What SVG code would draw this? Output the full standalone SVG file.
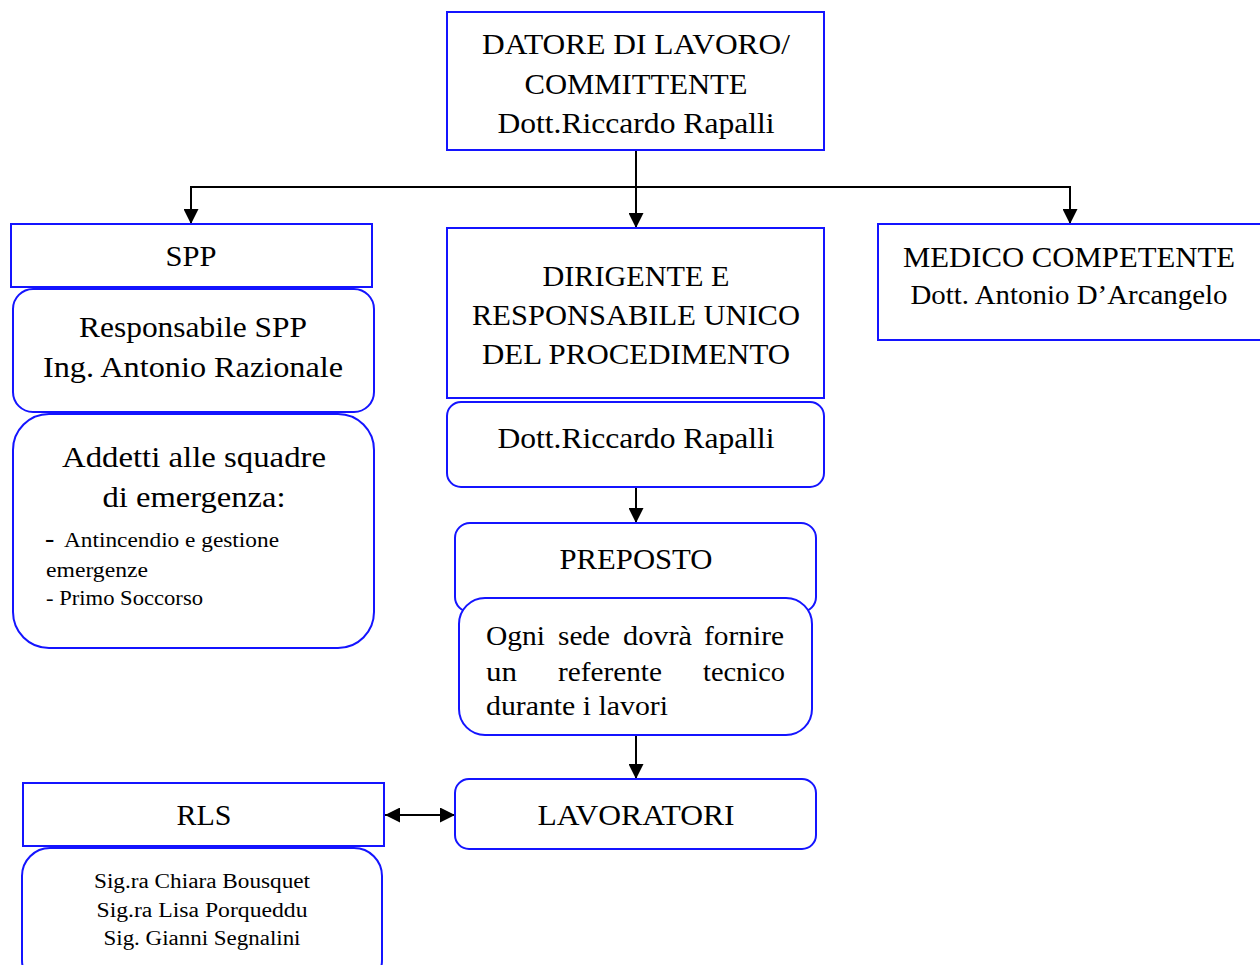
<svg xmlns="http://www.w3.org/2000/svg" width="1260" height="965" viewBox="0 0 1260 965">
<defs>
<marker id="ah" viewBox="0 0 10 10" refX="10" refY="5" markerWidth="15" markerHeight="15" markerUnits="userSpaceOnUse" orient="auto-start-reverse">
<path d="M0,0 L10,5 L0,10 z" fill="#000"/>
</marker>
<style>
.box{fill:#fff;stroke:#1414ff;stroke-width:2}
.t{font-family:"Liberation Serif","DejaVu Serif",serif;fill:#000;text-anchor:middle}
.l{font-family:"Liberation Serif","DejaVu Serif",serif;fill:#000}
.c{fill:none;stroke:#000;stroke-width:2}
</style>
</defs>
<rect width="1260" height="965" fill="#fff"/>

<g id="connectors">
<path class="c" d="M636,150 V228" marker-end="url(#ah)"/>
<path class="c" d="M191,224 V187 H1070 V224" marker-start="url(#ah)" marker-end="url(#ah)"/>
<path class="c" d="M636,487 V523" marker-end="url(#ah)"/>
<path class="c" d="M636,735 V779" marker-end="url(#ah)"/>
<path class="c" d="M385,815 H455" marker-start="url(#ah)" marker-end="url(#ah)"/>
</g>

<g id="datore">
<rect class="box" x="447" y="12" width="377" height="138"/>
<text class="t" font-size="30" x="636" y="54" textLength="308" lengthAdjust="spacingAndGlyphs">DATORE DI LAVORO/</text>
<text class="t" font-size="30" x="636" y="94" textLength="223" lengthAdjust="spacingAndGlyphs">COMMITTENTE</text>
<text class="t" font-size="30" x="636" y="133" textLength="277" lengthAdjust="spacingAndGlyphs">Dott.Riccardo Rapalli</text>
</g>

<g id="spp">
<rect class="box" x="11" y="224" width="361" height="63"/>
<text class="t" font-size="30" x="191" y="266" textLength="51" lengthAdjust="spacingAndGlyphs">SPP</text>
</g>

<g id="responsabile-spp">
<rect class="box" x="13" y="289" width="361" height="123" rx="20"/>
<text class="t" font-size="30" x="193" y="337" textLength="228" lengthAdjust="spacingAndGlyphs">Responsabile SPP</text>
<text class="t" font-size="30" x="193" y="377" textLength="300" lengthAdjust="spacingAndGlyphs">Ing. Antonio Razionale</text>
</g>

<g id="addetti">
<rect class="box" x="13" y="414" width="361" height="234" rx="36"/>
<text class="t" font-size="30" x="194" y="467" textLength="264" lengthAdjust="spacingAndGlyphs">Addetti alle squadre</text>
<text class="t" font-size="30" x="194" y="507" textLength="183" lengthAdjust="spacingAndGlyphs">di emergenza:</text>
<text class="l" font-size="28" x="45" y="547">-</text>
<text class="l" font-size="21" x="64" y="547" textLength="215" lengthAdjust="spacingAndGlyphs">Antincendio e gestione</text>
<text class="l" font-size="21" x="46" y="577" textLength="102" lengthAdjust="spacingAndGlyphs">emergenze</text>
<text class="l" font-size="21" x="46" y="605" textLength="157" lengthAdjust="spacingAndGlyphs">- Primo Soccorso</text>
</g>

<g id="dirigente">
<rect class="box" x="447" y="228" width="377" height="170"/>
<text class="t" font-size="30" x="636" y="286" textLength="187" lengthAdjust="spacingAndGlyphs">DIRIGENTE E</text>
<text class="t" font-size="30" x="636" y="325" textLength="328" lengthAdjust="spacingAndGlyphs">RESPONSABILE UNICO</text>
<text class="t" font-size="30" x="636" y="364" textLength="308" lengthAdjust="spacingAndGlyphs">DEL PROCEDIMENTO</text>
</g>

<g id="dirigente-nome">
<rect class="box" x="447" y="402" width="377" height="85" rx="14"/>
<text class="t" font-size="30" x="636" y="448" textLength="277" lengthAdjust="spacingAndGlyphs">Dott.Riccardo Rapalli</text>
</g>

<g id="medico">
<rect class="box" x="878" y="224" width="390" height="116"/>
<text class="t" font-size="29" x="1069" y="267" textLength="332" lengthAdjust="spacingAndGlyphs">MEDICO COMPETENTE</text>
<text class="t" font-size="27" x="1069" y="304" textLength="317" lengthAdjust="spacingAndGlyphs">Dott. Antonio D’Arcangelo</text>
</g>

<g id="preposto">
<rect class="box" x="455" y="523" width="361" height="89" rx="15"/>
<text class="t" font-size="30" x="636" y="569" textLength="153" lengthAdjust="spacingAndGlyphs">PREPOSTO</text>
</g>

<g id="referente">
<rect class="box" x="459" y="598" width="353" height="137" rx="26"/>
<text class="l" font-size="27" x="486" y="645" textLength="59" lengthAdjust="spacingAndGlyphs">Ogni</text>
<text class="l" font-size="27" x="558" y="645" textLength="52" lengthAdjust="spacingAndGlyphs">sede</text>
<text class="l" font-size="27" x="623" y="645" textLength="69" lengthAdjust="spacingAndGlyphs">dovrà</text>
<text class="l" font-size="27" x="704" y="645" textLength="80" lengthAdjust="spacingAndGlyphs">fornire</text>
<text class="l" font-size="27" x="486" y="681" textLength="31" lengthAdjust="spacingAndGlyphs">un</text>
<text class="l" font-size="27" x="558" y="681" textLength="104" lengthAdjust="spacingAndGlyphs">referente</text>
<text class="l" font-size="27" x="703" y="681" textLength="82" lengthAdjust="spacingAndGlyphs">tecnico</text>
<text class="l" font-size="27" x="486" y="715" textLength="182" lengthAdjust="spacingAndGlyphs">durante i lavori</text>
</g>

<g id="lavoratori">
<rect class="box" x="455" y="779" width="361" height="70" rx="14"/>
<text class="t" font-size="30" x="636" y="825" textLength="197" lengthAdjust="spacingAndGlyphs">LAVORATORI</text>
</g>

<g id="rls">
<rect class="box" x="23" y="783" width="361" height="63"/>
<text class="t" font-size="30" x="204" y="825" textLength="55" lengthAdjust="spacingAndGlyphs">RLS</text>
</g>

<g id="rls-nomi">
<rect class="box" x="22" y="848" width="360" height="140" rx="28"/>
<text class="t" font-size="20" x="202" y="888" textLength="216" lengthAdjust="spacingAndGlyphs">Sig.ra Chiara Bousquet</text>
<text class="t" font-size="20" x="202" y="917" textLength="211" lengthAdjust="spacingAndGlyphs">Sig.ra Lisa Porqueddu</text>
<text class="t" font-size="20" x="202" y="945" textLength="197" lengthAdjust="spacingAndGlyphs">Sig. Gianni Segnalini</text>
</g>
</svg>
